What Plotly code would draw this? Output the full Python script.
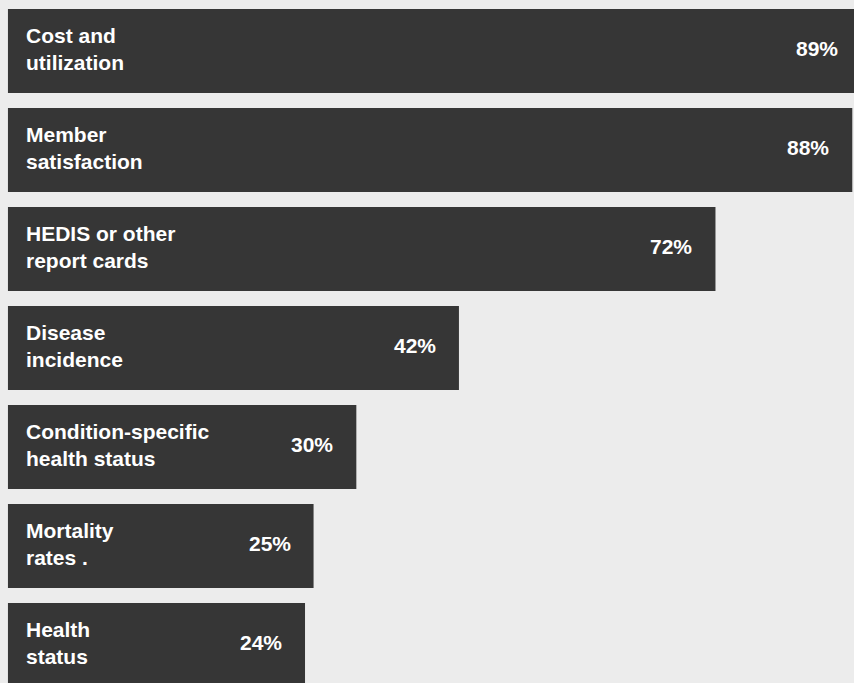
import plotly.graph_objects as go

# Survey: share of plans measuring each kind of outcome
categories = [
    "Cost and<br>utilization",
    "Member<br>satisfaction",
    "HEDIS or other<br>report cards",
    "Disease<br>incidence",
    "Condition-specific<br>health status",
    "Mortality<br>rates .",
    "Health<br>status",
]
values = [89, 88, 72, 42, 30, 25, 24]
value_labels = ["89%", "88%", "72%", "42%", "30%", "25%", "24%"]

# Bars begin left of zero to leave a gutter for the category names
BAR_START = -10.74
X_RANGE = [-11.67, 88.2]
BAR_COLOR = "#363636"
BG_COLOR = "#ececec"
FONT = "Liberation Sans, Arial, sans-serif"
TEXT_FONT = dict(family=FONT, size=21, color="white", weight="bold")

fig = go.Figure(
    go.Bar(
        orientation="h",
        y=categories,
        x=[v - BAR_START for v in values],
        base=BAR_START,
        width=0.85,
        marker=dict(color=BAR_COLOR, line=dict(width=0)),
        hoverinfo="skip",
    )
)


def to_paper(v):
    # position of a value along the x axis, as a fraction of the plot width
    return (v - X_RANGE[0]) / (X_RANGE[1] - X_RANGE[0])


annotations = []
for cat, v, lab in zip(categories, values, value_labels):
    annotations.append(dict(
        xref="paper", yref="y", x=24 / 854, y=cat,
        xanchor="left", yanchor="middle", align="left",
        text=cat, showarrow=False, yshift=2, font=TEXT_FONT,
    ))
    # value label sits just inside the bar's end (the top bar runs off the edge)
    annotations.append(dict(
        xref="paper", yref="y", x=to_paper(v), y=cat,
        xanchor="right", yanchor="middle",
        text=lab, showarrow=False, xshift=-21, yshift=2, font=TEXT_FONT,
    ))

fig.update_layout(
    width=854, height=683,
    margin=dict(l=0, r=0, t=0, b=0),
    paper_bgcolor=BG_COLOR, plot_bgcolor=BG_COLOR,
    showlegend=False,
    xaxis=dict(visible=False, range=X_RANGE, fixedrange=True),
    yaxis=dict(visible=False, range=[6.384, -0.515], fixedrange=True),
    annotations=annotations,
)

fig.write_html("out.html")
